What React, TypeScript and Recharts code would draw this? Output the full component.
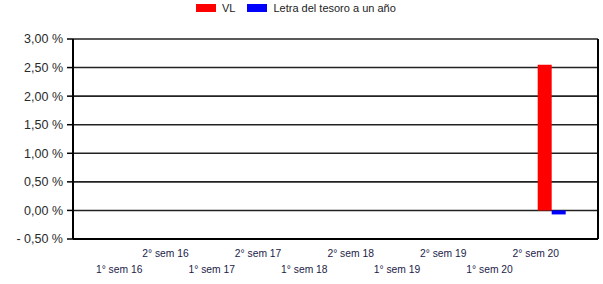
import React from 'react'
import { BarChart, Bar, XAxis, YAxis, CartesianGrid } from 'recharts'

const categories = [
  '1° sem 16', '2° sem 16', '1° sem 17', '2° sem 17', '1° sem 18',
  '2° sem 18', '1° sem 19', '2° sem 19', '1° sem 20', '2° sem 20',
]
const vlValues: (number | null)[] = [null, null, null, null, null, null, null, null, null, 2.55]
const letraValues: (number | null)[] = [null, null, null, null, null, null, null, null, null, -0.07]
const yTicks = [-0.5, 0, 0.5, 1, 1.5, 2, 2.5, 3]

const data = categories.map((name, i) => ({
  name,
  vl: vlValues[i],
  letra: letraValues[i],
}))

const font = 'Arial, "Liberation Sans", sans-serif'

const fmtPct = (v: number) => {
  const s = Math.abs(v).toFixed(2).replace('.', ',') + ' %'
  return v < 0 ? '- ' + s : s
}

function XTick(props: any) {
  const { x, payload, index } = props
  const y = index % 2 === 0 ? 273 : 256.5
  return (
    <text x={x - 16} y={y} textAnchor="middle" fontSize={10.3} fontFamily={font} fill="#1c1c48">
      {payload.value}
    </text>
  )
}

function LegendBox() {
  const item = (color: string, label: string) => (
    <div style={{ display: 'flex', alignItems: 'center', marginRight: 12 }}>
      <span style={{ width: 20, height: 8, background: color, display: 'inline-block', marginRight: 6 }} />
      <span>{label}</span>
    </div>
  )
  return (
    <div
      style={{
        position: 'absolute', left: 196, top: 1, display: 'flex',
        fontFamily: font, fontSize: 11, color: '#222', lineHeight: '14px',
      }}
    >
      {item('#ff0000', 'VL')}
      {item('#0000ff', 'Letra del tesoro a un año')}
    </div>
  )
}

export default function App() {
  return (
    <div style={{ position: 'absolute', left: 0, top: 0, width: 603, height: 284, background: '#fff' }}>
      <LegendBox />
      <BarChart
        width={603}
        height={284}
        data={data}
        margin={{ top: 39, right: 0, bottom: 0, left: 0 }}
        barGap={0}
        barSize={14}
      >
        <CartesianGrid vertical={false} stroke="#222" strokeWidth={1.6} yAxisId="l" />
        <XAxis
          dataKey="name"
          height={45}
          interval={0}
          tick={<XTick />}
          tickLine={false}
          axisLine={{ stroke: '#000', strokeWidth: 2 }}
          padding={{ left: 39, right: 23 }}
        />
        <YAxis
          yAxisId="l"
          width={73}
          domain={[-0.5, 3]}
          ticks={yTicks}
          interval={0}
          tickFormatter={fmtPct}
          tick={{ fontSize: 12.5, fontFamily: font, fill: '#2a2a2a' }}
          tickSize={6}
          tickMargin={4}
          tickLine={{ stroke: '#000', strokeWidth: 1.5 }}
          axisLine={{ stroke: '#000', strokeWidth: 2 }}
        />
        <YAxis
          yAxisId="r"
          orientation="right"
          width={5}
          domain={[-0.5, 3]}
          tick={false}
          tickLine={false}
          axisLine={{ stroke: '#000', strokeWidth: 2 }}
        />
        <Bar dataKey="vl" yAxisId="l" fill="#ff0000" isAnimationActive={false} />
        <Bar dataKey="letra" yAxisId="l" fill="#0000ff" isAnimationActive={false} />
      </BarChart>
    </div>
  )
}
